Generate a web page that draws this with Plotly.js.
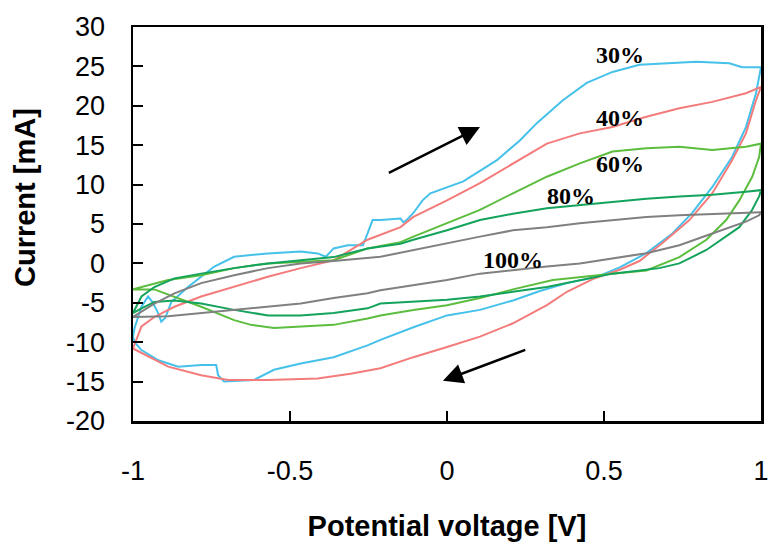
<!DOCTYPE html>
<html>
<head>
<meta charset="utf-8">
<script src="https://cdn.plot.ly/plotly-3.0.1.min.js"></script>
<style>
  html, body { margin: 0; padding: 0; background: #ffffff; }
  #chart { width: 769px; height: 544px; }
</style>
</head>
<body>
<div id="chart"></div>
<script>
// Cyclic voltammograms: forward sweep (-1 V -> 1 V) followed by reverse sweep back to -1 V.
const seriesNames = ['30%', '40%', '60%', '80%', '100%'];

const v30 = [-1.0, -0.995, -0.973, -0.952, -0.938, -0.92, -0.91, -0.897, -0.878, -0.825, -0.783, -0.741, -0.678, -0.57, -0.466, -0.412, -0.386, -0.361, -0.316, -0.268, -0.253, -0.237, -0.212, -0.148, -0.139, -0.126, -0.107, -0.078, -0.053, 0.052, 0.159, 0.232, 0.286, 0.369, 0.445, 0.527, 0.613, 0.686, 0.794, 0.899, 0.94, 1.0,
             0.984, 0.952, 0.908, 0.845, 0.781, 0.718, 0.635, 0.55, 0.477, 0.382, 0.296, 0.21, 0.105, 0.0, -0.107, -0.212, -0.253, -0.361, -0.466, -0.551, -0.615, -0.71, -0.729, -0.735, -0.783, -0.856, -0.919, -0.973, -0.995, -1.0];
const i30 = [-9.3, -8.2, -5.5, -4.2, -4.9, -6.3, -7.4, -6.9, -4.9, -3.0, -1.7, -0.4, 0.84, 1.27, 1.5, 1.27, 0.84, 1.9, 2.3, 2.3, 3.8, 5.5, 5.5, 5.7, 5.2, 5.6, 6.4, 8.0, 8.9, 10.4, 13.1, 15.6, 17.8, 20.7, 22.9, 24.3, 25.2, 25.4, 25.6, 25.4, 24.9, 24.9,
             21.6, 17.3, 13.5, 9.7, 6.4, 3.8, 1.3, -0.5, -1.7, -2.5, -3.5, -4.7, -5.9, -6.6, -8.1, -9.7, -10.4, -11.9, -12.7, -13.5, -14.8, -15.0, -14.2, -12.9, -12.9, -13.1, -12.3, -11.0, -10.0, -9.3];

const v40 = [-1.0, -0.973, -0.932, -0.868, -0.783, -0.678, -0.571, -0.466, -0.361, -0.253, -0.148, -0.107, 0.0, 0.105, 0.21, 0.318, 0.423, 0.527, 0.635, 0.74, 0.845, 0.952, 1.0,
             0.984, 0.952, 0.908, 0.845, 0.772, 0.686, 0.613, 0.55, 0.464, 0.382, 0.318, 0.21, 0.105, 0.0, -0.107, -0.212, -0.307, -0.412, -0.571, -0.697, -0.783, -0.888, -1.0];
const i40 = [-10.8, -8.0, -6.8, -5.5, -4.2, -3.0, -1.7, -0.6, 0.4, 3.0, 4.6, 5.9, 8.0, 10.2, 12.7, 15.2, 16.5, 17.3, 18.6, 19.7, 20.5, 21.6, 22.4,
             20.7, 16.5, 13.1, 8.9, 5.5, 2.6, 0.3, -0.8, -2.0, -3.6, -5.3, -7.6, -9.3, -10.6, -11.9, -13.3, -14.0, -14.6, -14.8, -14.8, -14.2, -13.1, -10.8];

const v60 = [-1.0, -0.888, -0.783, -0.678, -0.57, -0.361, -0.253, -0.148, -0.107, 0.0, 0.105, 0.21, 0.318, 0.423, 0.527, 0.635, 0.74, 0.845, 0.952, 1.0,
             0.994, 0.972, 0.931, 0.889, 0.826, 0.74, 0.635, 0.527, 0.423, 0.337, 0.21, 0.105, 0.0, -0.107, -0.212, -0.253, -0.361, -0.466, -0.551, -0.624, -0.678, -0.783, -0.868, -0.932, -1.0];
const i60 = [-3.3, -2.1, -1.5, -0.6, 0.0, 0.4, 1.9, 2.7, 3.4, 5.1, 6.8, 8.9, 11.0, 12.7, 14.2, 14.6, 14.8, 14.4, 14.8, 15.2,
             13.5, 11.0, 8.0, 5.5, 3.0, 0.8, -0.9, -1.3, -1.7, -2.1, -3.3, -4.4, -5.3, -5.9, -6.6, -7.0, -7.8, -8.0, -8.2, -7.8, -7.2, -5.5, -4.2, -3.3, -3.3];

const v80 = [-1.0, -0.973, -0.932, -0.868, -0.783, -0.678, -0.57, -0.361, -0.253, -0.148, -0.107, 0.0, 0.105, 0.21, 0.318, 0.423, 0.527, 0.635, 0.74, 0.845, 0.952, 1.0,
             0.994, 0.972, 0.931, 0.889, 0.826, 0.74, 0.676, 0.527, 0.423, 0.318, 0.21, 0.105, 0.0, -0.107, -0.212, -0.253, -0.361, -0.466, -0.57, -0.678, -0.783, -0.868, -0.932, -0.973, -1.0];
const i80 = [-6.3, -4.2, -3.0, -1.9, -1.3, -0.6, 0.0, 0.8, 1.9, 2.5, 3.0, 4.2, 5.5, 6.3, 7.0, 7.4, 7.8, 8.2, 8.5, 8.7, 9.1, 9.3,
             8.5, 6.8, 4.6, 3.4, 1.7, 0.0, -0.6, -1.3, -2.1, -3.0, -3.6, -4.2, -4.6, -4.9, -5.1, -5.7, -6.3, -6.6, -6.6, -5.9, -5.1, -4.7, -4.9, -5.7, -6.3];

const v100 = [-1.0, -0.932, -0.868, -0.783, -0.678, -0.57, -0.466, -0.361, -0.212, -0.107, 0.0, 0.105, 0.21, 0.318, 0.423, 0.527, 0.635, 0.74, 0.845, 1.0,
              0.994, 0.952, 0.845, 0.74, 0.635, 0.527, 0.423, 0.318, 0.21, 0.105, 0.0, -0.107, -0.212, -0.253, -0.361, -0.466, -0.57, -0.678, -0.783, -0.888, -1.0];
const i100 = [-6.8, -5.1, -3.8, -2.5, -1.5, -0.6, 0.0, 0.3, 0.84, 1.7, 2.5, 3.4, 4.2, 4.6, 5.1, 5.5, 5.9, 6.1, 6.3, 6.5,
              6.1, 5.3, 3.8, 2.3, 1.3, 0.6, 0.0, -0.4, -0.9, -1.3, -2.1, -2.8, -3.4, -3.8, -4.4, -5.1, -5.5, -5.9, -6.3, -6.7, -6.8];

const xTickVals = [-1, -0.5, 0, 0.5, 1];
const xTickText = ['-1', '-0.5', '0', '0.5', '1'];
const yTickVals = [-20, -15, -10, -5, 0, 5, 10, 15, 20, 25, 30];
const yTickText = ['-20', '-15', '-10', '-5', '0', '5', '10', '15', '20', '25', '30'];

const colors = ['#45c1ea', '#f47b7b', '#5cbd3e', '#14a35c', '#808080'];
const voltages = [v30, v40, v60, v80, v100];
const currents = [i30, i40, i60, i80, i100];

const traces = seriesNames.map((name, k) => ({
  type: 'scatter',
  mode: 'lines',
  name: name,
  x: voltages[k],
  y: currents[k],
  line: { color: colors[k], width: 2 },
  hoverinfo: 'x+y+name'
}));

// Series labels placed beside each loop
const labelSpots = [
  { x: 0.55, y: 26.4 },
  { x: 0.55, y: 18.4 },
  { x: 0.55, y: 12.6 },
  { x: 0.396, y: 8.5 },
  { x: 0.21, y: 0.4 }
];
const labelFont = { family: 'Liberation Serif', size: 24, color: '#000', weight: 'bold' };
const labelAnnotations = seriesNames.map((name, k) => ({
  x: labelSpots[k].x, y: labelSpots[k].y, xref: 'x', yref: 'y',
  text: name, showarrow: false, font: labelFont,
  xanchor: 'center', yanchor: 'middle'
}));

// Sweep-direction arrows
const arrowStyle = { showarrow: true, arrowhead: 2, arrowsize: 1.6, arrowwidth: 2.5, arrowcolor: '#000',
  xref: 'x', yref: 'y', axref: 'x', ayref: 'y', text: '' };
const sweepArrows = [
  Object.assign({ x: 0.105, y: 17.3, ax: -0.19, ay: 11.4 }, arrowStyle),
  Object.assign({ x: -0.013, y: -14.9, ax: 0.254, ay: -10.9 }, arrowStyle)
];

const titleFont = { family: 'Liberation Sans', size: 29, color: '#000', weight: 'bold' };
const tickFont = { family: 'Liberation Sans', size: 27, color: '#000' };

const axisCommon = {
  showgrid: false, zeroline: false,
  showline: true, linecolor: '#000', linewidth: 2.5, mirror: true,
  ticks: 'inside', ticklen: 10, tickwidth: 2, tickcolor: '#000',
  tickmode: 'array', tickfont: tickFont, automargin: false
};

const layout = {
  width: 769, height: 544,
  margin: { l: 133, r: 8, t: 27, b: 123 },
  paper_bgcolor: '#ffffff', plot_bgcolor: '#ffffff',
  showlegend: false,
  xaxis: Object.assign({}, axisCommon, {
    range: [-1, 1], tickvals: xTickVals, ticktext: xTickText,
    ticklabelstandoff: 24,
    title: { text: 'Potential voltage [V]', font: titleFont, standoff: 31 }
  }),
  yaxis: Object.assign({}, axisCommon, {
    range: [-20, 30], tickvals: yTickVals, ticktext: yTickText,
    ticklabelstandoff: 20
  }),
  annotations: labelAnnotations.concat(sweepArrows, [{
    xref: 'paper', yref: 'paper', x: -0.172, y: 0.5685,
    text: 'Current [mA]', textangle: -90, showarrow: false,
    font: titleFont, xanchor: 'center', yanchor: 'middle'
  }])
};

Plotly.newPlot('chart', traces, layout, { displayModeBar: false, staticPlot: true });
</script>
</body>
</html>
